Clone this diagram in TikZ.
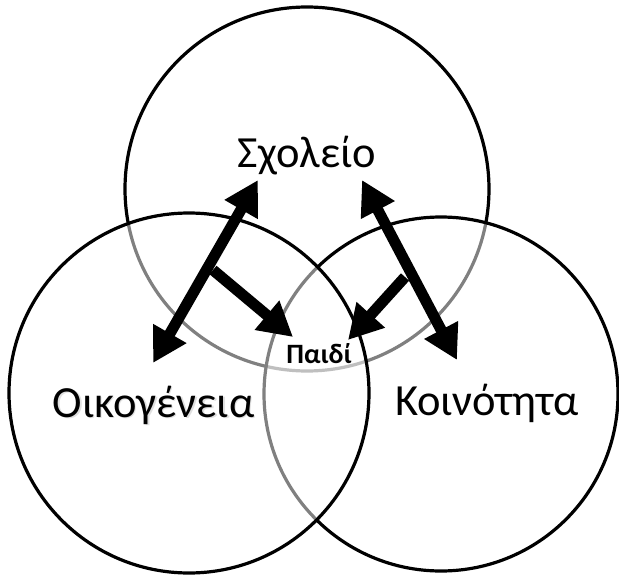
\documentclass[tikz,border=0pt]{standalone}
\usepackage{fontspec}
\setmainfont{Carlito}
\usetikzlibrary{arrows.meta}
\begin{document}
\begin{tikzpicture}[x=1pt,y=-1pt,
  ring/.style={draw=black,line width=3.2pt,fill=white,fill opacity=0.5},
  big/.style={font=\fontsize{44.5}{52}\selectfont,inner sep=0pt,anchor=base},
  small/.style={font=\bfseries\fontsize{28}{32}\selectfont,inner sep=0pt,anchor=base},
  arr/.style={line width=11pt,-{Triangle[length=34pt,width=36pt]}},
  darr/.style={line width=11pt,{Triangle[length=34pt,width=36pt]}-{Triangle[length=34pt,width=36pt]}}]
\useasboundingbox (0,0) rectangle (619,578);
\draw[ring] (307,189) circle[radius=182pt];
\draw[ring] (441,394) circle[radius=177pt];
\draw[ring] (189,393) circle[radius=180pt];
\node[big] (school) at (307,167) {Σχολείο};
\node[big,text=black!40,opacity=0.3] (famshadow) at (155,418.5) {Οικογένεια};
\node[big] (family) at (153.5,417) {Οικογένεια};
\node[big] (community) at (487,415) {Κοινότητα};
\node[small] (child) at (319,363) {Παιδί};
\coordinate (l1) at (258,180);
\coordinate (l2) at (153,363);
\coordinate (lj) at (213,270);
\coordinate (l3) at (293,337);
\coordinate (r1) at (362,180);
\coordinate (r2) at (457,360);
\coordinate (rj) at (405,277);
\coordinate (r3) at (348,340);
\draw[darr] (l2) -- (l1);
\draw[arr] (lj) -- (l3);
\draw[darr] (r1) -- (r2);
\draw[arr] (rj) -- (r3);
\end{tikzpicture}
\end{document}
